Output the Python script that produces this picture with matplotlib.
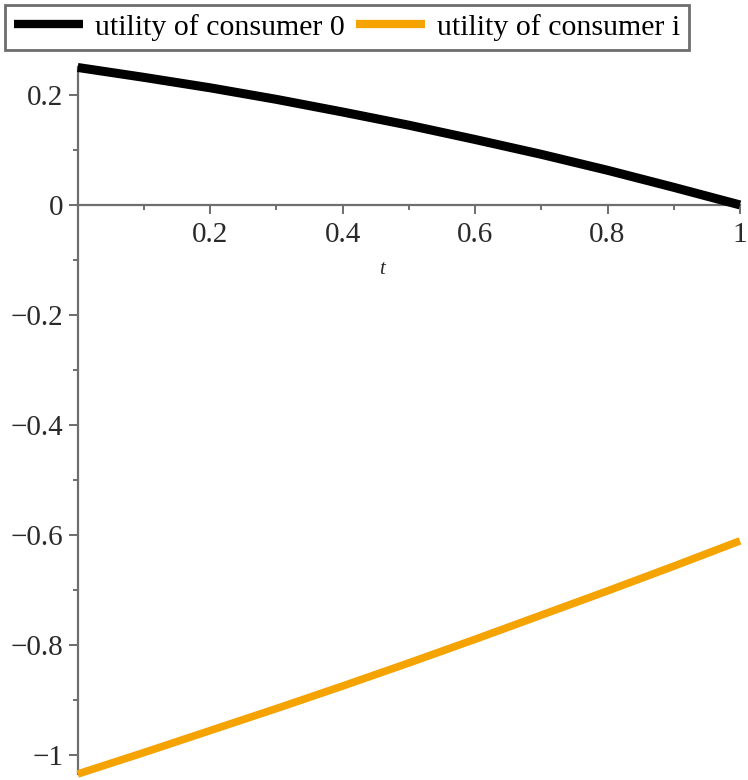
import matplotlib
matplotlib.use('Agg')
import matplotlib.pyplot as plt
from matplotlib.ticker import MultipleLocator, FixedLocator

plt.rcParams['font.family'] = ['Liberation Serif', 'DejaVu Serif']

# values
t = [0.0, 0.1, 0.2, 0.3, 0.4, 0.5, 0.6, 0.7, 0.8, 0.9, 1.0]
u_consumer_0 = [0.25, 0.232, 0.213, 0.192, 0.169, 0.145, 0.119, 0.092, 0.063, 0.032, 0.0]
u_consumer_i = [-1.035, -0.996, -0.956, -0.916, -0.875, -0.833, -0.790, -0.746, -0.702, -0.657, -0.611]

x_ticks = [0.2, 0.4, 0.6, 0.8, 1.0]
x_labels = ['0.2', '0.4', '0.6', '0.8', '1']
y_ticks = [0.2, 0.0, -0.2, -0.4, -0.6, -0.8, -1.0]
y_labels = ['0.2', '0', '\u22120.2', '\u22120.4', '\u22120.6', '\u22120.8', '\u22121']

axis_grey = '#6e6e6e'
orange = '#F5A300'

fig = plt.figure(figsize=(7.48, 7.8), dpi=100)
ax = fig.add_axes([0.1039, 0.0077, 0.8854, 0.9058])

l0, = ax.plot(t, u_consumer_0, color='black', lw=6.5, solid_capstyle='butt',
              clip_on=False, label='utility of consumer 0', zorder=3)
l1, = ax.plot(t, u_consumer_i, color=orange, lw=5.5, solid_capstyle='butt',
              clip_on=False, label='utility of consumer i', zorder=3)

ax.set_xlim(0, 1)
ax.set_ylim(-1.035, 0.25)

for s in ['top', 'right']:
    ax.spines[s].set_visible(False)
ax.spines['bottom'].set_position(('data', 0))
for s in ['left', 'bottom']:
    ax.spines[s].set_color(axis_grey)
    ax.spines[s].set_linewidth(1.6)

ax.xaxis.set_major_locator(FixedLocator(x_ticks))
ax.set_xticklabels(x_labels)
ax.xaxis.set_minor_locator(MultipleLocator(0.1))
ax.yaxis.set_major_locator(FixedLocator(y_ticks))
ax.set_yticklabels(y_labels)
ax.yaxis.set_minor_locator(MultipleLocator(0.1))

ax.tick_params(which='both', color=axis_grey, width=1.4, labelcolor='#2a2a2a',
               labelsize=21)
ax.tick_params(which='major', length=6.5, pad=4)
ax.tick_params(axis='x', which='major', pad=6)
ax.tick_params(which='minor', length=3.6)

ax.text(0.46, -0.118, 't', fontsize=15, fontstyle='italic', ha='center',
        va='center', color='#2a2a2a')

leg = fig.legend(handles=[l0, l1], loc='upper left',
                 bbox_to_anchor=(5 / 748, 1 - 5 / 780), ncol=2, fontsize=21.5,
                 fancybox=False, edgecolor=axis_grey, framealpha=1,
                 borderpad=0.3, borderaxespad=0, handlelength=2.3,
                 handletextpad=0.4, columnspacing=0.4)
leg.get_frame().set_linewidth(2.0)
for h in leg.get_lines():
    h.set_linewidth(6)

fig.savefig('out.png', dpi=100)
